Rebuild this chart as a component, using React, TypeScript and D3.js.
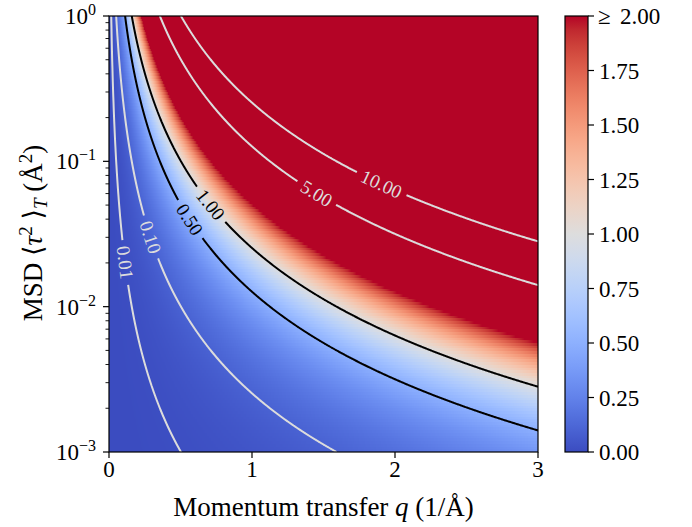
import React, { useMemo } from 'react';
import * as d3 from 'd3';

// axis ranges of the map
const qDomain = [0, 3];
const msdDomain = [1e-3, 1];
// z = factor * q^2 * <tau^2>, factor (~4 pi^2)
const scatteringFactor = 4 * Math.PI * Math.PI;
const colorMax = 2;

const contourLevels = [0.01, 0.1, 0.5, 1, 5, 10];
const contourColors = ['#dcdcdc', '#dcdcdc', '#000000', '#000000', '#dcdcdc', '#dcdcdc'];
// where each inline label sits (screen px)
const labelAnchors = [[127, 262], [150, 237], [191, 219], [212, 204], [317, 192], [382, 182]];

const xTicks = [0, 1, 2, 3];
const yTicks = [1e-3, 1e-2, 1e-1, 1];
const yTickExp = ['\u22123', '\u22122', '\u22121', '0'];
const cbTicks = [0, 0.25, 0.5, 0.75, 1, 1.25, 1.5, 1.75, 2];
const cbLabels = ['0.00', '0.25', '0.50', '0.75', '1.00', '1.25', '1.50', '1.75', '2.00'];

// matplotlib coolwarm, 33 stops
const coolwarm = [
  'rgb(59,76,192)', 'rgb(68,90,204)', 'rgb(77,104,215)', 'rgb(87,117,225)', 'rgb(98,130,234)',
  'rgb(108,142,241)', 'rgb(119,154,247)', 'rgb(130,165,251)', 'rgb(141,176,254)', 'rgb(152,185,255)',
  'rgb(163,194,255)', 'rgb(174,201,253)', 'rgb(184,208,249)', 'rgb(194,213,244)', 'rgb(204,217,238)',
  'rgb(213,219,230)', 'rgb(221,221,221)', 'rgb(229,216,209)', 'rgb(236,211,197)', 'rgb(241,204,185)',
  'rgb(245,196,173)', 'rgb(247,187,160)', 'rgb(247,177,148)', 'rgb(247,166,135)', 'rgb(244,154,123)',
  'rgb(241,141,111)', 'rgb(236,127,99)', 'rgb(229,112,88)', 'rgb(222,96,77)', 'rgb(213,80,66)',
  'rgb(203,62,56)', 'rgb(192,40,47)', 'rgb(180,4,38)'
];

const W = 692, H = 527;
const L = 109, R = 538, T = 16, B = 452;
const CBL = 565, CBR = 588;
const FONT = 'Liberation Serif, DejaVu Serif, serif';

const field = (q: number, m: number) => scatteringFactor * q * q * m;

// split a closed contour ring into open lines, dropping the parts on the grid border
function ringToLines(ring: number[][], nx: number, ny: number) {
  const onEdge = (p: number[]) => p[0] <= 0 || p[0] >= nx || p[1] <= 0 || p[1] >= ny;
  const start = ring.findIndex(onEdge);
  if (start < 0) return [ring];
  const n = ring.length;
  const lines: number[][][] = [];
  let cur: number[][] = [];
  let prev = ring[start];
  for (let k = 1; k <= n; k++) {
    const p = ring[(start + k) % n];
    if (onEdge(p)) {
      if (cur.length) { cur.push(p); if (cur.length > 1) lines.push(cur); }
      cur = [];
    } else {
      if (!cur.length) cur.push(prev);
      cur.push(p);
    }
    prev = p;
  }
  return lines;
}

// cut a gap of half-length g around the point nearest to anchor
function cutGap(line: number[][], anchor: number[], g: number) {
  const s = [0];
  for (let i = 1; i < line.length; i++) s.push(s[i - 1] + Math.hypot(line[i][0] - line[i - 1][0], line[i][1] - line[i - 1][1]));
  let best = 0, bd = Infinity;
  line.forEach((p, i) => { const d = Math.hypot(p[0] - anchor[0], p[1] - anchor[1]); if (d < bd) { bd = d; best = i; } });
  const sa = s[best];
  const at = (sv: number) => {
    let i = d3.bisectLeft(s, sv);
    i = Math.max(1, Math.min(line.length - 1, i));
    const t = (sv - s[i - 1]) / (s[i] - s[i - 1] || 1);
    return [line[i - 1][0] + t * (line[i][0] - line[i - 1][0]), line[i - 1][1] + t * (line[i][1] - line[i - 1][1])];
  };
  const a = at(sa - g), b = at(sa + g);
  const before = line.filter((_, i) => s[i] < sa - g).concat([a]);
  const after = [b].concat(line.filter((_, i) => s[i] > sa + g));
  const p0 = at(sa - 8), p1 = at(sa + 8);
  let ang = Math.atan2(p1[1] - p0[1], p1[0] - p0[0]) * 180 / Math.PI;
  if (ang > 90) ang -= 180;
  if (ang < -90) ang += 180;
  return { parts: [before, after], pos: line[best], ang };
}

export default function App() {
  const x = d3.scaleLinear().domain(qDomain).range([L, R]);
  const y = d3.scaleLog().domain(msdDomain).range([B, T]);
  const color = d3.scaleSequential(d3.piecewise(d3.interpolateRgb, coolwarm)).domain([0, colorMax]).clamp(true);
  const cbY = d3.scaleLinear().domain([0, colorMax]).range([B, T]);

  const heatmap = useMemo(() => {
    const cols = R - L, rows = 160;
    const canvas = document.createElement('canvas');
    canvas.width = cols; canvas.height = rows;
    const ctx = canvas.getContext('2d')!;
    const img = ctx.createImageData(cols, rows);
    const qs = d3.scaleLinear().domain([0, cols]).range(qDomain);
    const ls = d3.scaleLinear().domain([0, rows]).range([0, -3]);
    for (let r = 0; r < rows; r++) {
      for (let c = 0; c < cols; c++) {
        const v = field(qs(c + 0.5), Math.pow(10, ls(r + 0.5)));
        const rgb = d3.rgb(color(v));
        const k = (r * cols + c) * 4;
        img.data[k] = rgb.r; img.data[k + 1] = rgb.g; img.data[k + 2] = rgb.b; img.data[k + 3] = 255;
      }
    }
    ctx.putImageData(img, 0, 0);
    return canvas.toDataURL();
  }, []);

  const contourMarks = useMemo(() => {
    const nx = R - L, ny = B - T;
    const vals: number[] = new Array(nx * ny);
    for (let j = 0; j < ny; j++)
      for (let i = 0; i < nx; i++)
        vals[j * nx + i] = field(x.invert(L + i + 0.5), y.invert(T + j + 0.5));
    const cs = d3.contours().size([nx, ny]).thresholds(contourLevels)(vals);
    return cs.map((c, li) => {
      let lines: number[][][] = [];
      c.coordinates.forEach(poly => poly.forEach(ring => { lines = lines.concat(ringToLines(ring as number[][], nx, ny)); }));
      lines = lines.map(l => l.map(p => [L + p[0], T + p[1]]));
      lines.sort((a, b) => b.length - a.length);
      const label = contourLevels[li].toFixed(2);
      const tw = label.split('').reduce((acc, ch) => acc + (ch === '.' ? 0.25 : 0.5), 0) * 19;
      const cut = cutGap(lines[0], labelAnchors[li], tw / 2 + 6);
      return { lines: cut.parts.concat(lines.slice(1)), pos: cut.pos, ang: cut.ang, label, stroke: contourColors[li] };
    });
  }, []);

  const line = d3.line();
  const minorTicks: number[] = [];
  [1e-3, 1e-2, 1e-1].forEach(d => { for (let k = 2; k < 10; k++) minorTicks.push(d * k); });

  return (
    <svg width={W} height={H} style={{ position: 'absolute', left: 0, top: 0, background: '#fff', fontFamily: FONT }}>
      <defs>
        <clipPath id="plotclip"><rect x={L} y={T} width={R - L} height={B - T} /></clipPath>
        <linearGradient id="cbgrad" x1="0" y1="1" x2="0" y2="0">
          {coolwarm.map((c, i) => <stop key={i} offset={i / (coolwarm.length - 1)} stopColor={c} />)}
        </linearGradient>
      </defs>
      <image href={heatmap} x={L} y={T} width={R - L} height={B - T} preserveAspectRatio="none" style={{ imageRendering: 'pixelated' }} />
      <g clipPath="url(#plotclip)">
        {contourMarks.map((c, i) => (
          <g key={i}>
            {c.lines.map((l, j) => <path key={j} d={line(l as [number, number][]) || ''} fill="none" stroke={c.stroke} strokeWidth={2} />)}
          </g>
        ))}
      </g>
      {contourMarks.map((c, i) => (
        <text key={i} transform={`translate(${c.pos[0]},${c.pos[1]}) rotate(${c.ang})`} textAnchor="middle" dominantBaseline="central" fontSize={19} fill={c.stroke}>{c.label}</text>
      ))}
      <rect x={L} y={T} width={R - L} height={B - T} fill="none" stroke="#000" strokeWidth={1.2} />

      {xTicks.map(t => (
        <g key={t}>
          <line x1={x(t)} x2={x(t)} y1={B} y2={B + 6} stroke="#000" strokeWidth={1.2} />
          <text x={x(t)} y={B + 25} textAnchor="middle" fontSize={23}>{t}</text>
        </g>
      ))}
      {yTicks.map((t, i) => (
        <g key={t}>
          <line x1={L - 6} x2={L} y1={y(t)} y2={y(t)} stroke="#000" strokeWidth={1.2} />
          <text x={L - 13} y={y(t) + 8} textAnchor="end" fontSize={23}>10<tspan dy={-9} fontSize={16}>{yTickExp[i]}</tspan></text>
        </g>
      ))}
      {minorTicks.map(t => <line key={t} x1={L - 3.5} x2={L} y1={y(t)} y2={y(t)} stroke="#000" strokeWidth={0.9} />)}

      <text x={(L + R) / 2} y={516} textAnchor="middle" fontSize={27}>
        Momentum transfer <tspan fontStyle="italic">q</tspan> (1/Å)
      </text>
      <text transform={`translate(42,${(T + B) / 2 - 1}) rotate(-90)`} textAnchor="middle" fontSize={27}>
        MSD ⟨<tspan fontStyle="italic">τ</tspan><tspan dy={-10} fontSize={19}>2</tspan><tspan dy={10}> ⟩</tspan><tspan dy={5} fontSize={19} fontStyle="italic">T</tspan><tspan dy={-5}>  (Å</tspan><tspan dy={-10} fontSize={19}>2</tspan><tspan dy={10}>)</tspan>
      </text>

      <rect x={CBL} y={T} width={CBR - CBL} height={B - T} fill="url(#cbgrad)" stroke="#000" strokeWidth={1.2} />
      {cbTicks.map((t, i) => (
        <g key={t}>
          <line x1={CBR} x2={CBR + 6} y1={cbY(t)} y2={cbY(t)} stroke="#000" strokeWidth={1.2} />
          {i === cbTicks.length - 1 ? (
            <text y={cbY(t) + 8} fontSize={23}>
              <tspan x={598}>≥</tspan><tspan x={620}>{cbLabels[i]}</tspan>
            </text>
          ) : (
            <text x={CBR + 11} y={cbY(t) + 8} fontSize={23}>{cbLabels[i]}</text>
          )}
        </g>
      ))}
    </svg>
  );
}
